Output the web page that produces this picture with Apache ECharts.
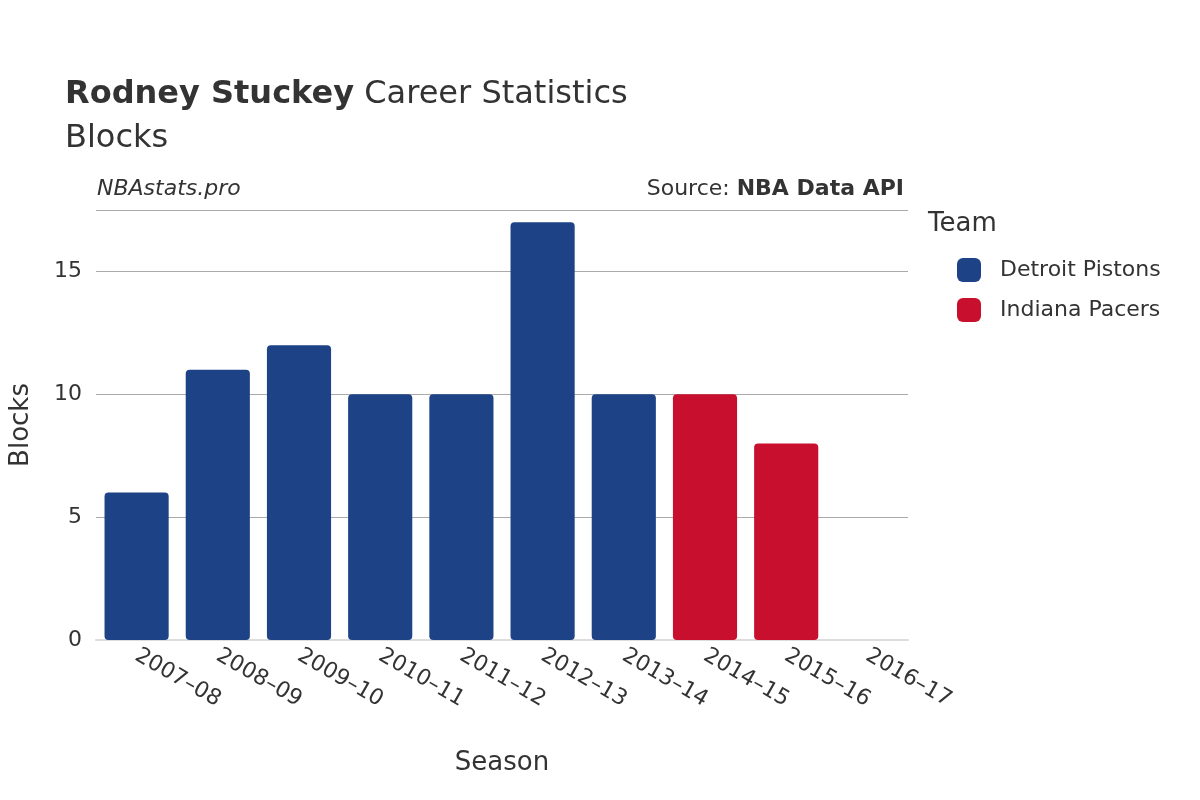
<!DOCTYPE html>
<html><head><meta charset="utf-8">
<script src="https://cdn.jsdelivr.net/npm/echarts@6/dist/echarts.min.js"></script>
<style>html,body{margin:0;padding:0;background:#fff}#c{width:1200px;height:800px}</style>
</head><body><div id="c"></div>
<script>
const seasons = ['2007–08','2008–09','2009–10','2010–11','2011–12','2012–13','2013–14','2014–15','2015–16','2016–17'];
const pistons = [6, 11, 12, 10, 10, 17, 10, '-', '-', '-'];
const pacers = ['-', '-', '-', '-', '-', '-', '-', 10, 8, 0];
const yTicks = [0, 5, 10, 15];
const F = 'DejaVu Sans';
const chart = echarts.init(document.getElementById('c'));
chart.setOption({
  backgroundColor: '#fff',
  textStyle: { fontFamily: F },
  title: [
    { text: '{b|Rodney Stuckey} Career Statistics\nBlocks', left: 60, top: 68,
      textStyle: { fontFamily: F, fontSize: 32, color: '#333', fontWeight: 'normal', lineHeight: 44,
        rich: { b: { fontFamily: F, fontSize: 32, fontWeight: 'bold', color: '#333' } } } }
  ],
  graphic: [
    { type: 'text', left: 97, top: 178, style: { text: 'NBAstats.pro', font: 'italic 22px DejaVu Sans', fill: '#333' } },
    { type: 'text', right: 296, top: 178, style: { rich: { n: { fontFamily: F, fontSize: 22, fill: '#333' }, b: { fontFamily: F, fontSize: 22, fontWeight: 'bold', fill: '#333' } }, text: '{n|Source: }{b|NBA Data API}' } },
    { type: 'text', left: 928, top: 211, style: { text: 'Team', font: '26px DejaVu Sans', fill: '#333' } }
  ],
  legend: {
    orient: 'vertical', left: 952, top: 253, itemGap: 16, itemWidth: 24, itemHeight: 24,
    icon: 'roundRect', textStyle: { fontFamily: F, fontSize: 22, color: '#333', padding: [0,0,0,14] },
    data: ['Detroit Pistons', 'Indiana Pacers']
  },
  grid: { left: 92, right: 292, top: 210, bottom: 160 },
  xAxis: {
    type: 'category', data: seasons, name: 'Season', nameLocation: 'middle', nameGap: 110,
    nameTextStyle: { fontFamily: F, fontSize: 26, color: '#333' },
    axisTick: { show: false }, axisLine: { lineStyle: { color: '#ddd', width: 2 } },
    axisLabel: { rotate: -30, fontSize: 22, color: '#333', fontFamily: F, margin: 14 }
  },
  yAxis: {
    type: 'value', min: 0, max: 17.5, interval: 5, name: 'Blocks', nameLocation: 'middle', nameGap: 62,
    nameTextStyle: { fontFamily: F, fontSize: 26, color: '#333' },
    axisLabel: { fontSize: 22, color: '#333', fontFamily: F, margin: 14, showMaxLabel: false,
      formatter: v => yTicks.includes(v) ? String(v) : '' },
    splitLine: { lineStyle: { color: '#aaa', width: 1.2 } }
  },
  series: [
    { name: 'Detroit Pistons', type: 'bar', stack: 't', data: pistons, barCategoryGap: '21%',
      itemStyle: { color: '#1d4386', borderRadius: 4 } },
    { name: 'Indiana Pacers', type: 'bar', stack: 't', data: pacers,
      itemStyle: { color: '#c8102e', borderRadius: 4 } }
  ]
});
</script></body></html>
